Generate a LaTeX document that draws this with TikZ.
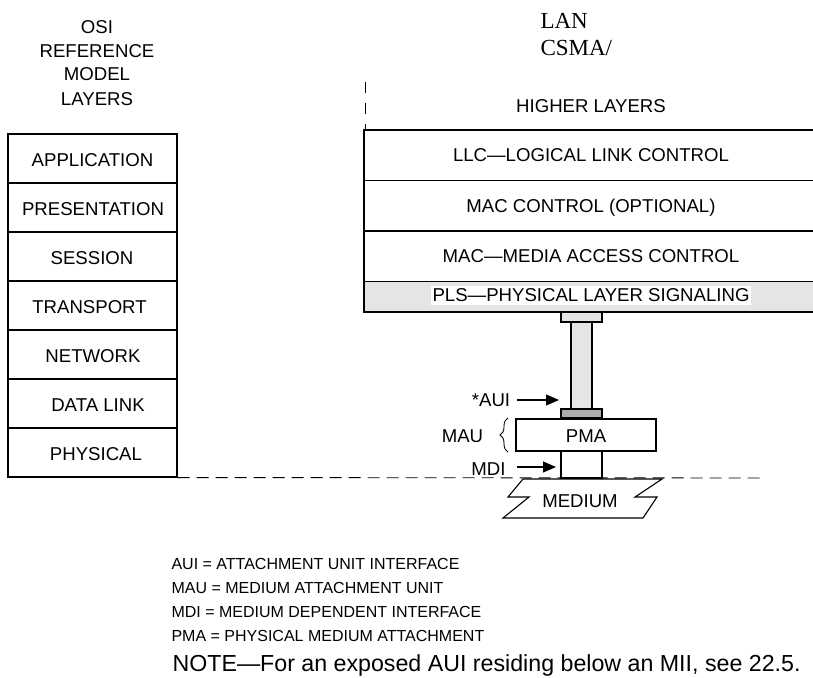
\documentclass[tikz,border=0pt]{standalone}
\usepackage{fontspec}
\setmainfont{Liberation Sans}
\newfontfamily\lanserif{Liberation Serif}
\usetikzlibrary{arrows.meta,decorations.pathreplacing}
\begin{document}
\begin{tikzpicture}[x=1pt,y=-1pt,line width=1.1pt,
  lbl/.style={font=\fontsize{18.6}{20}\selectfont,inner sep=0pt,anchor=base},
  leg/.style={font=\fontsize{16}{18}\selectfont,inner sep=0pt,anchor=base west},
  osibox/.style={draw,minimum width=169pt,minimum height=49pt,inner sep=0pt},
  arr/.style={line width=1.1pt,-{Triangle[length=13pt,width=11pt]}},
  dashline/.style={line width=0.9pt,dash pattern=on 12pt off 7pt}]
\useasboundingbox (0,0) rectangle (813,677);

% OSI title
\node[lbl] (t1) at (97,33.5) {OSI};
\node[lbl] (t2) at (97,57) {REFERENCE};
\node[lbl] (t3) at (97,81) {MODEL};
\node[lbl] (t4) at (97,105) {LAYERS};

% OSI stack
\node[osibox] (app) at (92.5,158.5) {};
\node[osibox] (pre) at (92.5,207.5) {};
\node[osibox] (ses) at (92.5,256.5) {};
\node[osibox] (tra) at (92.5,305.5) {};
\node[osibox] (net) at (92.5,354.5) {};
\node[osibox] (dl)  at (92.5,403.5) {};
\node[osibox] (phy) at (92.5,452.5) {};
\node[lbl] (appt) at (92.5,166) {APPLICATION};
\node[lbl] (pret) at (93,215) {PRESENTATION};
\node[lbl] (sest) at (92,264) {SESSION};
\node[lbl] (trat) at (89.5,313) {TRANSPORT};
\node[lbl] (nett) at (93,362) {NETWORK};
\node[lbl] (dlt)  at (98,411) {DATA LINK};
\node[lbl] (phyt) at (96,460) {PHYSICAL};

% LAN title
\node[font=\lanserif\fontsize{23}{24}\selectfont,inner sep=0pt,anchor=base west] (lan) at (540,28.3) {LAN};
\node[font=\lanserif\fontsize{23}{24}\selectfont,inner sep=0pt,anchor=base west] (csma) at (540,55.5) {CSMA/};

% right stack
\draw[line width=0.9pt,dash pattern=on 11pt off 10pt] (365,82) -- (365,130);
\fill[gray!20] (364,281.5) rectangle (813,312);
\draw (813,130) -- (364,130) -- (364,312) -- (813,312);
\draw (364,180.5) -- (813,180.5);
\draw (364,231) -- (813,231);
\draw (364,281.5) -- (813,281.5);
\node[lbl] (hl) at (591,112) {HIGHER LAYERS};
\node[lbl] (llc) at (591,161.5) {LLC—LOGICAL LINK CONTROL};
\node[lbl] (macc) at (591,212) {MAC CONTROL (OPTIONAL)};
\node[lbl] (mac) at (591,262.5) {MAC—MEDIA ACCESS CONTROL};
\node[lbl,fill=white,inner xsep=1.5pt,inner ysep=0pt,text height=15pt,text depth=4pt] (pls) at (591,301) {PLS—PHYSICAL LAYER SIGNALING};

% AUI column
\draw[fill=gray!20] (561,312) rectangle (602,322);
\draw[fill=gray!20] (571,322) rectangle (592,409);
\draw[fill=gray!65] (561,409) rectangle (602,418);

% PMA / MDI
\node[draw,minimum width=140pt,minimum height=32pt,inner sep=0pt] (pma) at (586,435) {};
\node[lbl] (pmat) at (586,442) {PMA};
\draw (561,451) rectangle (602,478);

% labels and arrows
\node[lbl] (aui) at (491,406) {*AUI};
\coordinate (auiS) at (517,400);
\coordinate (auiE) at (559,400);
\draw[arr] (auiS) -- (auiE);
\node[lbl] (mdi) at (488.5,475) {MDI};
\coordinate (mdiS) at (517,467);
\coordinate (mdiE) at (556,467);
\draw[arr] (mdiS) -- (mdiE);
\node[lbl] (mau) at (462.5,442) {MAU};
\coordinate (brB) at (508,452);
\coordinate (brT) at (508,418);
\draw[line width=0.9pt,decorate,decoration={brace,amplitude=8pt}] (brB) -- (brT);

% dashed boundary
\draw[dashline] (phy.south east) -- (765,478);

% medium
\draw[fill=white] (523,479) -- (662,479) -- (635,497) -- (657,497) -- (643,518)
  -- (503,518) -- (529,497) -- (508,497) -- cycle;
\node[lbl] (med) at (580,507.3) {MEDIUM};

% legend
\node[leg] (l1) at (171,569.5) {AUI = ATTACHMENT UNIT INTERFACE};
\node[leg] (l2) at (171,593.5) {MAU = MEDIUM ATTACHMENT UNIT};
\node[leg] (l3) at (171,617.5) {MDI = MEDIUM DEPENDENT INTERFACE};
\node[leg] (l4) at (171,641.5) {PMA = PHYSICAL MEDIUM ATTACHMENT};
\node[font=\fontsize{23.2}{24}\selectfont,inner sep=0pt,anchor=base west] (note) at (172,671.7) {NOTE—For an exposed AUI residing below an MII, see 22.5.};
\end{tikzpicture}
\end{document}
